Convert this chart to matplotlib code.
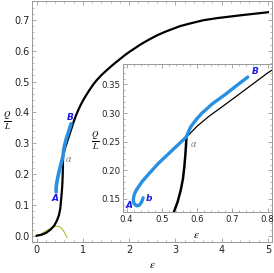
import numpy as np
import matplotlib.pyplot as plt
from matplotlib.ticker import MultipleLocator

plt.rcParams['mathtext.fontset'] = 'stix'

# --- данные ---
# черная кривая Q/L(eps)
eps_black = [0.0, 0.1, 0.2, 0.3, 0.38, 0.44, 0.48, 0.51, 0.53, 0.545, 0.554, 0.56,
             0.564, 0.567, 0.569, 0.570, 0.60, 0.633, 0.68, 0.726, 0.80, 0.85, 0.90,
             0.95, 1.0, 1.05, 1.1, 1.16, 1.23, 1.3, 1.4, 1.5, 1.59, 1.7, 1.8, 1.9,
             2.0, 2.1, 2.24, 2.4, 2.6, 2.8, 3.1, 3.3, 3.6, 3.9, 4.18, 4.4, 4.7, 5.0]
q_black = [0.0, 0.003, 0.009, 0.02, 0.033, 0.05, 0.066, 0.088, 0.12, 0.145, 0.166, 0.185,
           0.206, 0.228, 0.247, 0.258, 0.277, 0.294, 0.315, 0.336, 0.37, 0.39, 0.408,
           0.424, 0.438, 0.451, 0.463, 0.477, 0.492, 0.505, 0.521, 0.535, 0.547, 0.561,
           0.573, 0.585, 0.596, 0.606, 0.620, 0.634, 0.650, 0.663, 0.680, 0.688, 0.699,
           0.706, 0.711, 0.715, 0.720, 0.725]
alpha_idx = 15  # точка alpha в черной кривой

# синяя ветка от b через A к B
eps_blue = [0.447, 0.443, 0.436, 0.428, 0.421, 0.419, 0.422, 0.428, 0.445, 0.465, 0.49,
            0.521, 0.545, 0.569, 0.582, 0.598, 0.614, 0.645, 0.679, 0.71, 0.744]
q_blue = [0.152, 0.145, 0.139, 0.138, 0.142, 0.149, 0.158, 0.166, 0.181, 0.195, 0.212,
          0.23, 0.244, 0.258, 0.276, 0.289, 0.300, 0.317, 0.332, 0.347, 0.363]

# зеленая кривая
eps_green = [0.0, 0.1, 0.2, 0.3, 0.38, 0.44, 0.5, 0.56, 0.61, 0.65]
q_green = [0.0, 0.006, 0.015, 0.024, 0.029, 0.031, 0.029, 0.02, 0.008, -0.005]

main_xticks = [0, 1, 2, 3, 4, 5]
main_yticks = [0.0, 0.1, 0.2, 0.3, 0.4, 0.5, 0.6, 0.7]
ins_xticks = [0.4, 0.5, 0.6, 0.7, 0.8]
ins_yticks = [0.15, 0.20, 0.25, 0.30, 0.35]

BLUE = '#2a8fe0'
LBL = '#1a1ae6'
FRAME = '#999999'


def style_axes(ax, xminor, yminor, fs):
    ax.xaxis.set_minor_locator(MultipleLocator(xminor))
    ax.yaxis.set_minor_locator(MultipleLocator(yminor))
    ax.tick_params(which='both', direction='in', top=True, right=True,
                   color=FRAME, labelsize=fs, labelcolor='#222222', pad=2)
    ax.tick_params(which='major', length=3, width=0.6)
    ax.tick_params(which='minor', length=1.6, width=0.5)
    for s in ax.spines.values():
        s.set_color(FRAME); s.set_linewidth(0.7)


fig = plt.figure(figsize=(2.74, 2.73), dpi=100)
ax = fig.add_axes([0.117, 0.114, 0.876, 0.884])
ax.plot(eps_green, q_green, color='#a8c030', lw=0.8)
ax.plot(eps_black, q_black, color='black', lw=1.6)
ax.plot(eps_blue[4:], q_blue[4:], color=BLUE, lw=2.6, solid_capstyle='round')
ax.set_xlim(-0.1, 5.09)
ax.set_ylim(-0.02, 0.763)
ax.set_xticks(main_xticks)
ax.set_yticks(main_yticks)
ax.set_xticklabels([str(t) for t in main_xticks])
ax.set_yticklabels([f'{t:.1f}' for t in main_yticks])
style_axes(ax, 0.2, 0.02, 7)
ax.text(0.40, 0.121, 'A', color=LBL, fontsize=6.5, fontweight='bold', style='italic',
        ha='center', va='center')
ax.text(0.73, 0.385, 'B', color=LBL, fontsize=6.5, fontweight='bold', style='italic',
        ha='center', va='center')
ax.text(0.70, 0.248, r'$\alpha$', color='#777777', fontsize=7, ha='center', va='center')
ax.text(-0.104, 0.504, r'$\frac{Q}{L}$', transform=ax.transAxes, fontsize=9,
        ha='center', va='center')
ax.text(0.503, -0.095, r'$\epsilon$', transform=ax.transAxes, fontsize=8,
        ha='center', va='center')

# --- вставка ---
ins = fig.add_axes([0.449, 0.223, 0.544, 0.543])
ins.plot(eps_black[:alpha_idx + 1], q_black[:alpha_idx + 1], color='black', lw=1.8)
ins.plot(eps_black[alpha_idx:], q_black[alpha_idx:], color='black', lw=0.9)
ins.plot(eps_blue, q_blue, color=BLUE, lw=2.4, solid_capstyle='round')
ins.set_xlim(0.39, 0.813)
ins.set_ylim(0.127, 0.386)
ins.set_xticks(ins_xticks)
ins.set_yticks(ins_yticks)
ins.set_xticklabels([f'{t:.1f}' for t in ins_xticks])
ins.set_yticklabels([f'{t:.2f}' for t in ins_yticks])
style_axes(ins, 0.02, 0.01, 6.2)
ins.text(0.407, 0.139, 'A', color=LBL, fontsize=6.5, fontweight='bold', style='italic',
         ha='center', va='center')
ins.text(0.464, 0.150, 'b', color=LBL, fontsize=6.5, fontweight='bold', style='italic',
         ha='center', va='center')
ins.text(0.764, 0.373, 'B', color=LBL, fontsize=6.5, fontweight='bold', style='italic',
         ha='center', va='center')
ins.text(0.59, 0.246, r'$\alpha$', color='#777777', fontsize=7, ha='center', va='center')
ins.text(-0.19, 0.48, r'$\frac{Q}{L}$', transform=ins.transAxes, fontsize=9,
         ha='center', va='center')
ins.text(0.49, -0.155, r'$\epsilon$', transform=ins.transAxes, fontsize=8,
         ha='center', va='center')

fig.savefig('out.png', dpi=100)
